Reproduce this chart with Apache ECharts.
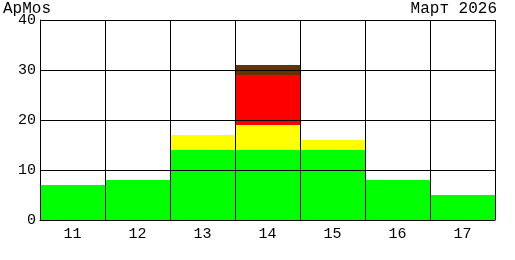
<!DOCTYPE html>
<html><head><meta charset="utf-8">
<script src="https://cdn.jsdelivr.net/npm/echarts@6/dist/echarts.min.js"></script>
<style>html,body{margin:0;padding:0;background:#fff}#c{width:515px;height:260px}</style>
</head><body><div id="c"></div>
<script>
const categories = ['11','12','13','14','15','16','17'];
const green  = [7, 8, 14, 14, 14, 8, 5];
const yellow = [0, 0, 3, 5, 2, 0, 0];
const red    = [0, 0, 0, 10, 0, 0, 0];
const brown  = [0, 0, 0, 2, 0, 0, 0];
const yTicks = [0, 10, 20, 30, 40];
const titleLeft = 'ApMos';
const titleRight = 'Март 2026';

const font = 'Liberation Mono';
const chart = echarts.init(document.getElementById('c'), null, {renderer:'canvas'});
function s(name, data, color){
  return {name, type:'bar', stack:'a', data, barWidth:'100%', barGap:'0%', barCategoryGap:'0%',
    itemStyle:{color}, z:2, silent:true, animation:false};
}
chart.setOption({
  animation:false,
  backgroundColor:'#fff',
  title:[
    {text:titleLeft, left:3, top:1, padding:0, textStyle:{fontFamily:font, fontSize:16, fontWeight:'normal', color:'#000'}},
    {text:titleRight, right:18, top:1, padding:0, textStyle:{fontFamily:font, fontSize:16, fontWeight:'normal', color:'#000'}}
  ],
  grid:{left:40, right:20, top:20, bottom:40, containLabel:false},
  xAxis:{type:'category', data:categories, boundaryGap:true, z:10,
    axisLine:{show:true, lineStyle:{color:'#000', width:1}},
    axisTick:{show:false},
    axisLabel:{fontFamily:font, fontSize:15, color:'#000', margin:7},
    splitLine:{show:true, lineStyle:{color:'#000', width:1}}
  },
  yAxis:{type:'value', min:yTicks[0], max:yTicks[yTicks.length-1], interval:10, z:10,
    axisLine:{show:true, lineStyle:{color:'#000', width:1}},
    axisTick:{show:false},
    axisLabel:{fontFamily:font, fontSize:15, color:'#000', margin:4, verticalAlign:'middle', padding:[2,0,0,0]},
    splitLine:{show:true, lineStyle:{color:'#000', width:1}}
  },
  series:[ s('g', green, '#00ff00'), s('y', yellow, '#ffff00'), s('r', red, '#ff0000'), s('b', brown, '#663300') ]
});
</script></body></html>
